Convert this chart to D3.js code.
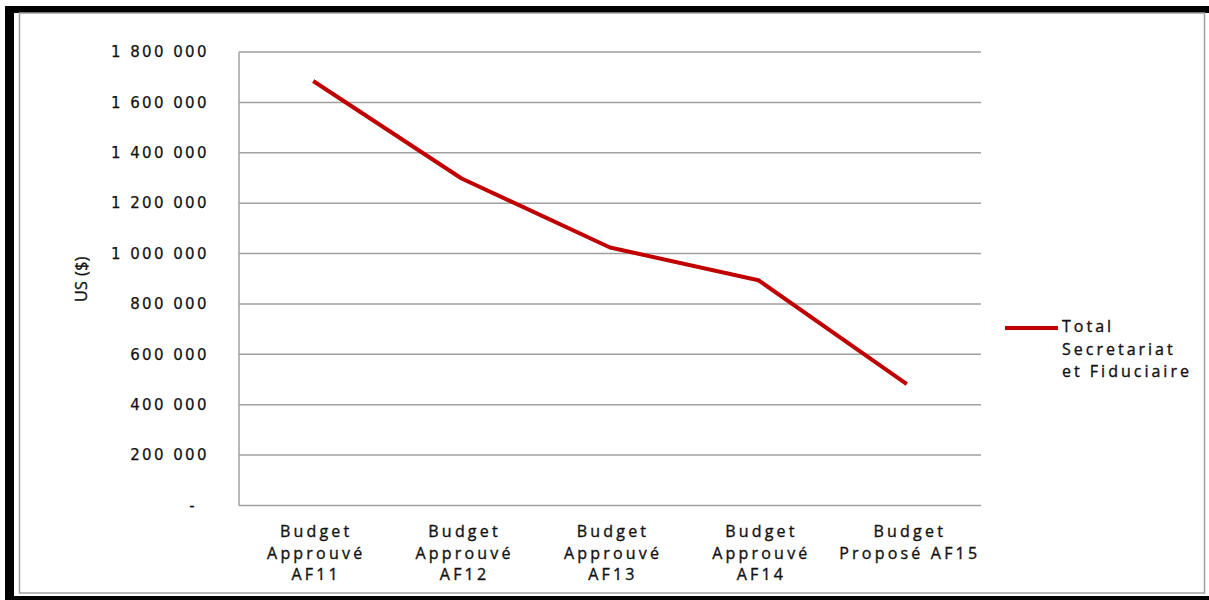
<!DOCTYPE html>
<html lang="fr">
<head>
<meta charset="utf-8">
<title>Total Secretariat et Fiduciaire</title>
<script src="https://cdn.jsdelivr.net/npm/d3@7"></script>
<style>
  html, body { margin: 0; padding: 0; background: #ffffff; }
  svg { display: block; }
  .ytick text { font-family: "DejaVu Sans", Verdana, sans-serif; font-size: 15px; letter-spacing: 2.4px; fill: #111; stroke: #111; stroke-width: 0.25px; }
  .xlab { font-family: "Open Sans", Calibri, sans-serif; font-size: 16px; letter-spacing: 3.2px; fill: #111; stroke: #111; stroke-width: 0.35px; }
  .legend text { font-family: "Open Sans", Calibri, sans-serif; font-size: 16px; letter-spacing: 3px; fill: #111; stroke: #111; stroke-width: 0.35px; }
  .ytitle { font-family: "Open Sans", Calibri, sans-serif; font-size: 16px; letter-spacing: 0.5px; fill: #111; stroke: #111; stroke-width: 0.35px; }
</style>
</head>
<body>
<svg id="chart" width="1209" height="600"></svg>
<script>
// Budget categories (x axis) and their wrapped label lines
const categories = ["AF11", "AF12", "AF13", "AF14", "AF15"];
const categoryLabels = [
  ["Budget", "Approuvé", "AF11"],
  ["Budget", "Approuvé", "AF12"],
  ["Budget", "Approuvé", "AF13"],
  ["Budget", "Approuvé", "AF14"],
  ["Budget", "Proposé AF15"]
];
// Total Secretariat et Fiduciaire, US ($)
const seriesName = ["Total", "Secretariat", "et Fiduciaire"];
const totalValues = [1685000, 1298000, 1024000, 894000, 482000];
const yTicks = [0, 200000, 400000, 600000, 800000, 1000000, 1200000, 1400000, 1600000, 1800000];
const yTitle = "US ($)";

const svg = d3.select("#chart");
const W = 1209, H = 600;

// Outer frame: heavy black edge on top, left and bottom, thin grey inner border
svg.append("rect").attr("x", 0).attr("y", 0).attr("width", W).attr("height", H).attr("fill", "#fff");
svg.append("rect").attr("x", 5).attr("y", 6).attr("width", W - 5).attr("height", 7).attr("fill", "#000");
svg.append("rect").attr("x", 5).attr("y", 6).attr("width", 9).attr("height", H - 6).attr("fill", "#000");
svg.append("rect").attr("x", 5).attr("y", 596).attr("width", W - 5).attr("height", 4).attr("fill", "#000");
svg.append("rect").attr("x", 19.5).attr("y", 13).attr("width", 1185).attr("height", 580)
  .attr("fill", "none").attr("stroke", "#a0a0a0").attr("stroke-width", 1.5);

// Plot area
const plot = { left: 239, right: 981, top: 52, bottom: 505.5 };

const x = d3.scalePoint().domain(categories).range([plot.left, plot.right]).padding(0.5);
const y = d3.scaleLinear().domain([0, 1800000]).range([plot.bottom, plot.top]);

const fr = d3.formatLocale({ decimal: ",", thousands: " ", grouping: [3], currency: ["", " $"] });
const fmt = fr.format(",.0f");

// Horizontal gridlines
svg.append("g").selectAll("line").data(yTicks.filter(d => d > 0)).join("line")
  .attr("x1", plot.left).attr("x2", plot.right)
  .attr("y1", d => y(d)).attr("y2", d => y(d))
  .attr("stroke", "#a0a0a0").attr("stroke-width", 1.5);

// Y axis
const yAxis = d3.axisLeft(y).tickValues(yTicks).tickSize(0).tickPadding(30)
  .tickFormat(d => d === 0 ? "-" : fmt(d));
const yg = svg.append("g").attr("class", "ytick").attr("transform", `translate(${plot.left},0)`).call(yAxis);
yg.select(".domain").remove();
yg.selectAll("text").attr("dx", d => d === 0 ? -12 : 0);

// Axis lines
svg.append("line").attr("x1", plot.left).attr("x2", plot.left).attr("y1", plot.top).attr("y2", plot.bottom)
  .attr("stroke", "#a0a0a0").attr("stroke-width", 1.5);
svg.append("line").attr("x1", plot.left).attr("x2", plot.right).attr("y1", plot.bottom).attr("y2", plot.bottom)
  .attr("stroke", "#a0a0a0").attr("stroke-width", 1.5);

// X axis category labels
const xl = svg.append("g").selectAll("text").data(categories).join("text")
  .attr("class", "xlab")
  .attr("text-anchor", "middle")
  .attr("x", d => x(d) + 3)
  .attr("y", 537);
xl.each(function (d, i) {
  const t = d3.select(this);
  categoryLabels[i].forEach((line, j) => {
    t.append("tspan").attr("x", x(d) + 3).attr("dy", j === 0 ? 0 : 21.5).text(line);
  });
});

// Y axis title
svg.append("text").attr("class", "ytitle")
  .attr("transform", "translate(87,279) rotate(-90)")
  .attr("text-anchor", "middle").text(yTitle);

// Data line
const line = d3.line().x((d, i) => x(categories[i])).y(d => y(d));
svg.append("path").datum(totalValues)
  .attr("d", line)
  .attr("fill", "none").attr("stroke", "#c00000").attr("stroke-width", 4)
  .attr("stroke-linejoin", "round").attr("stroke-linecap", "butt");

// Legend
const lg = svg.append("g").attr("class", "legend");
lg.append("line").attr("x1", 1005).attr("x2", 1058).attr("y1", 328).attr("y2", 328)
  .attr("stroke", "#c00000").attr("stroke-width", 4);
lg.selectAll("text").data(seriesName).join("text")
  .attr("x", 1062).attr("y", (d, i) => 332 + i * 22.5).text(d => d);
</script>
</body>
</html>
